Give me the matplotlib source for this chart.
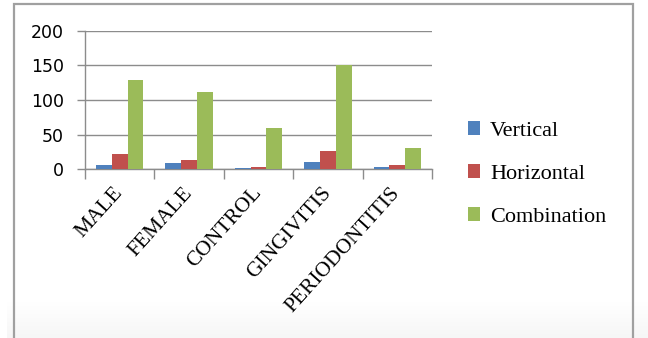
import matplotlib
matplotlib.use("Agg")
import matplotlib.pyplot as plt
from matplotlib.patches import Patch, Rectangle
import numpy as np

categories = ["MALE", "FEMALE", "CONTROL", "GINGIVITIS", "PERIODONTITIS"]
series_names = ["Vertical", "Horizontal", "Combination"]
vertical = [6, 8, 2, 10, 3]
horizontal = [22, 13, 3, 26, 6]
combination = [129, 112, 59, 150, 31]
y_ticks = [0, 50, 100, 150, 200]

colors = ["#4F81BD", "#C0504D", "#9BBB59"]
grid_color = "#8c8c8c"

W, H = 648, 338
fig = plt.figure(figsize=(W / 100, H / 100), dpi=100)
fig.patch.set_facecolor("white")

# bottom light gradient band
bg = fig.add_axes([7 / W, 0, 1 - 7 / W, 36 / H], zorder=-5)
grad = np.linspace(0, 1, 50).reshape(-1, 1)
bg.imshow(grad, aspect="auto", cmap=matplotlib.colors.LinearSegmentedColormap.from_list("g", ["#f6f6f6", "#ffffff"]),
          extent=[0, 1, 0, 1], origin="lower")
bg.axis("off")

# chart border
fig.patches.append(Rectangle((14 / W, -0.1), (633 - 14) / W, (H - 4) / H + 0.1,
                             transform=fig.transFigure, fill=False,
                             edgecolor="#a0a0a0", linewidth=1.6, zorder=-1))

ax = fig.add_axes([85 / W, (H - 169) / H, (432 - 85) / W, (169 - 31) / H])
x = np.arange(len(categories))
bw = 0.227
data = [vertical, horizontal, combination]
for i, (vals, name, c) in enumerate(zip(data, series_names, colors)):
    ax.bar(x + (i - 1) * bw, vals, width=bw, color=c, label=name, zorder=3)

ax.set_xlim(-0.5, len(categories) - 0.5)
ax.set_ylim(0, 200)
ax.set_yticks(y_ticks)
ax.set_yticklabels([str(v) for v in y_ticks], fontsize=12.5, family="DejaVu Sans")
ax.yaxis.grid(True, color=grid_color, linewidth=1.0, zorder=0)
ax.set_axisbelow(True)
for s in ["top", "right"]:
    ax.spines[s].set_visible(False)
for s in ["left", "bottom"]:
    ax.spines[s].set_color(grid_color)
    ax.spines[s].set_linewidth(1.0)
ax.tick_params(axis="y", length=6, width=1.0, color=grid_color, pad=9)

ax.set_xticks(x)
ax.set_xticklabels(categories, rotation=48, ha="right", va="center", rotation_mode="anchor",
                   fontsize=15.5, family="Liberation Serif")
ax.tick_params(axis="x", which="major", length=0, pad=15)
ax.set_xticks(np.arange(-0.5, len(categories), 1.0), minor=True)
ax.tick_params(axis="x", which="minor", length=7, width=1.0, color=grid_color)

handles = [Patch(facecolor=c, edgecolor="none") for c in colors]
fig.legend(handles, series_names, loc="center left",
           bbox_to_anchor=(468 / W, (H - 174) / H), frameon=False,
           prop={"family": "Liberation Serif", "size": 16},
           handlelength=0.55, handleheight=0.55, handletextpad=0.45,
           labelspacing=1.05, borderpad=0, borderaxespad=0)

fig.savefig("out.png", dpi=100, facecolor="white")
